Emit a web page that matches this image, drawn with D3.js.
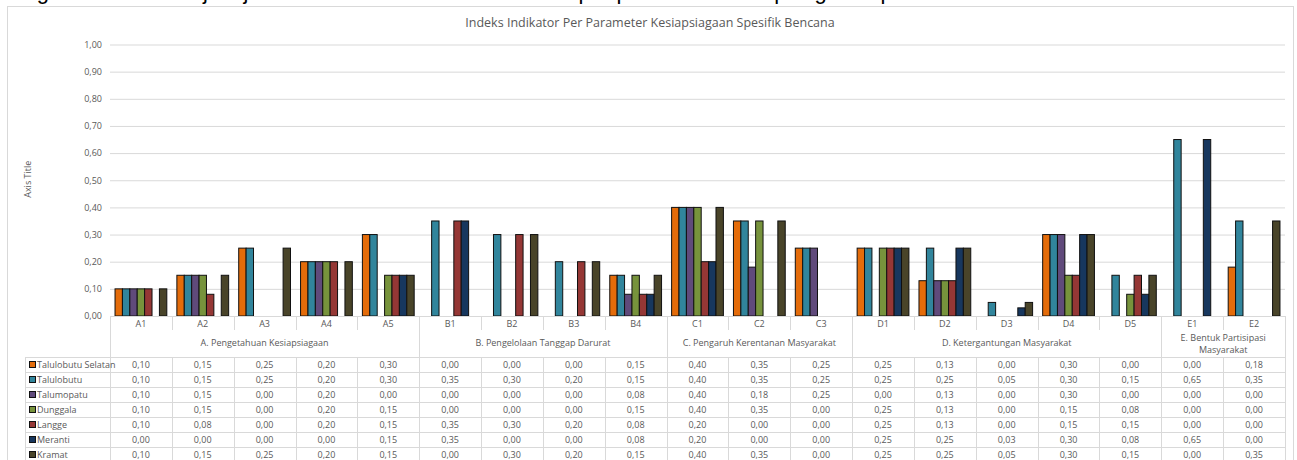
<!DOCTYPE html>
<html>
<head>
<meta charset="utf-8">
<script src="https://cdn.jsdelivr.net/npm/d3@7"></script>
<style>
  body { margin: 0; background: #fff; }
  svg { display: block; }
</style>
</head>
<body>
<script>
const categories = ["A1","A2","A3","A4","A5","B1","B2","B3","B4","C1","C2","C3","D1","D2","D3","D4","D5","E1","E2"];
const groups = [
  { name: ["A. Pengetahuan Kesiapsiagaan"], from: 0, to: 4 },
  { name: ["B. Pengelolaan Tanggap Darurat"], from: 5, to: 8 },
  { name: ["C. Pengaruh Kerentanan Masyarakat"], from: 9, to: 11 },
  { name: ["D. Ketergantungan Masyarakat"], from: 12, to: 16 },
  { name: ["E. Bentuk Partisipasi", "Masyarakat"], from: 17, to: 18 }
];
const seriesNames = ["Talulobutu Selatan","Talulobutu","Talumopatu","Dunggala","Langge","Meranti","Kramat"];
const colors = ["#E46C0A","#31859C","#604A7B","#77933C","#953735","#17375E","#494429"];

const talulobutuSelatan = [0.10,0.15,0.25,0.20,0.30,0.00,0.00,0.00,0.15,0.40,0.35,0.25,0.25,0.13,0.00,0.30,0.00,0.00,0.18];
const talulobutu        = [0.10,0.15,0.25,0.20,0.30,0.35,0.30,0.20,0.15,0.40,0.35,0.25,0.25,0.25,0.05,0.30,0.15,0.65,0.35];
const talumopatu        = [0.10,0.15,0.00,0.20,0.00,0.00,0.00,0.00,0.08,0.40,0.18,0.25,0.00,0.13,0.00,0.30,0.00,0.00,0.00];
const dunggala          = [0.10,0.15,0.00,0.20,0.15,0.00,0.00,0.00,0.15,0.40,0.35,0.00,0.25,0.13,0.00,0.15,0.08,0.00,0.00];
const langge            = [0.10,0.08,0.00,0.20,0.15,0.35,0.30,0.20,0.08,0.20,0.00,0.00,0.25,0.13,0.00,0.15,0.15,0.00,0.00];
const meranti           = [0.00,0.00,0.00,0.00,0.15,0.35,0.00,0.00,0.08,0.20,0.00,0.00,0.25,0.25,0.03,0.30,0.08,0.65,0.00];
const kramat            = [0.10,0.15,0.25,0.20,0.15,0.00,0.30,0.20,0.15,0.40,0.35,0.00,0.25,0.25,0.05,0.30,0.15,0.00,0.35];
const allValues = [talulobutuSelatan, talulobutu, talumopatu, dunggala, langge, meranti, kramat];

const yTicks = [0,0.1,0.2,0.3,0.4,0.5,0.6,0.7,0.8,0.9,1.0];
const fmt = v => d3.format(".2f")(v).replace(".", ",");

const width = 1297, height = 460;
const plotLeft = 110, plotRight = 1285, plotTop = 44.5, plotBottom = 316;
const catRowH = 14, groupRowH = 27, rowH = 15;
const legendLeft = 25;
const font = "'Open Sans', 'Liberation Sans', sans-serif";
const textColor = "#595959";
const lineColor = "#D9D9D9";

const svg = d3.select("body").append("svg")
  .attr("width", width)
  .attr("height", height)
  .style("font-family", font);

// cut-off line of document text above the chart (only its bottom edge shows)
svg.append("text")
  .attr("x", 0)
  .attr("y", -1.5)
  .attr("font-family", "'Liberation Sans', Arial, sans-serif")
  .attr("font-size", 22)
  .attr("fill", "#000")
  .text("dengan data hasil kajian jumlah indikator untuk nilai indeks per parameter kesiapsiagaan spesifik bencana.");

// chart frame
svg.append("rect")
  .attr("x", 7.5).attr("y", 6.5)
  .attr("width", width - 11).attr("height", height)
  .attr("fill", "#fff")
  .attr("stroke", lineColor);

// title
svg.append("text")
  .attr("x", 650).attr("y", 27)
  .attr("text-anchor", "middle")
  .attr("font-size", 12.5)
  .attr("fill", textColor)
  .text("Indeks Indikator Per Parameter Kesiapsiagaan Spesifik Bencana");

const x0 = d3.scaleBand()
  .domain(categories)
  .range([plotLeft, plotRight]);

const x1 = d3.scaleBand()
  .domain(seriesNames)
  .range([0, x0.bandwidth()])
  .paddingInner(0)
  .paddingOuter(0.68);

const y = d3.scaleLinear()
  .domain([0, 1])
  .range([plotBottom, plotTop]);

// y axis + gridlines
const yAxis = svg.append("g")
  .attr("transform", `translate(${plotLeft},0)`)
  .call(d3.axisLeft(y).tickValues(yTicks).tickFormat(fmt).tickSize(-(plotRight - plotLeft)).tickPadding(8));
yAxis.select(".domain").remove();
yAxis.selectAll(".tick line").attr("stroke", lineColor);
yAxis.selectAll(".tick text")
  .attr("fill", textColor)
  .attr("font-size", 9)
  .attr("font-family", font);

// axis title
svg.append("text")
  .attr("transform", `translate(31,${(plotTop + plotBottom) / 2 - 1}) rotate(-90)`)
  .attr("text-anchor", "middle")
  .attr("font-size", 9)
  .attr("fill", textColor)
  .text("Axis Title");

// bars
const seriesG = svg.append("g")
  .selectAll("g")
  .data(seriesNames)
  .join("g")
  .attr("fill", (d, i) => colors[i]);

seriesG.selectAll("rect")
  .data((d, i) => allValues[i].map((v, j) => ({ s: d, cat: categories[j], v })).filter(e => e.v > 0))
  .join("rect")
  .attr("x", d => x0(d.cat) + x1(d.s))
  .attr("y", d => y(d.v))
  .attr("width", x1.bandwidth())
  .attr("height", d => y(0) - y(d.v))
  .attr("stroke", "#111")
  .attr("stroke-width", 1);

// baseline
svg.append("line")
  .attr("x1", plotLeft).attr("x2", plotRight)
  .attr("y1", plotBottom + 0.5).attr("y2", plotBottom + 0.5)
  .attr("stroke", lineColor);

// category label row
const catY = plotBottom;
const grid = svg.append("g").attr("stroke", lineColor).attr("stroke-width", 1);
categories.forEach((c, i) => {
  svg.append("text")
    .attr("x", x0(c) + x0.bandwidth() / 2)
    .attr("y", catY + 10.5)
    .attr("text-anchor", "middle")
    .attr("font-size", 9)
    .attr("fill", textColor)
    .text(c);
});
categories.slice(1).forEach(c => {
  const xx = Math.round(x0(c)) + 0.5;
  grid.append("line").attr("x1", xx).attr("x2", xx).attr("y1", catY).attr("y2", catY + catRowH);
});

// group labels row
const groupTop = catY + catRowH;
const tableTop = groupTop + groupRowH;
groups.forEach(g => {
  const gx0 = x0(categories[g.from]);
  const gx1 = x0(categories[g.to]) + x0.bandwidth();
  const t = svg.append("text")
    .attr("text-anchor", "middle")
    .attr("font-size", 9)
    .attr("fill", textColor);
  g.name.forEach((line, k) => {
    t.append("tspan")
      .attr("x", (gx0 + gx1) / 2)
      .attr("y", g.name.length === 1 ? groupTop + 16 : groupTop + 11 + k * 12)
      .text(line);
  });
  const xx = Math.round(gx1) + 0.5;
  grid.append("line").attr("x1", xx).attr("x2", xx).attr("y1", catY).attr("y2", tableTop + rowH * seriesNames.length);
});
grid.append("line").attr("x1", plotLeft + 0.5).attr("x2", plotLeft + 0.5)
  .attr("y1", catY).attr("y2", tableTop + rowH * seriesNames.length);

// data table
for (let r = 0; r <= seriesNames.length; r++) {
  const yy = tableTop + r * rowH + 0.5;
  grid.append("line").attr("x1", legendLeft).attr("x2", plotRight).attr("y1", yy).attr("y2", yy);
}
grid.append("line").attr("x1", legendLeft + 0.5).attr("x2", legendLeft + 0.5)
  .attr("y1", tableTop).attr("y2", tableTop + rowH * seriesNames.length);
categories.slice(1).forEach(c => {
  const xx = Math.round(x0(c)) + 0.5;
  grid.append("line").attr("x1", xx).attr("x2", xx).attr("y1", tableTop).attr("y2", tableTop + rowH * seriesNames.length);
});

seriesNames.forEach((s, i) => {
  const rowY = tableTop + i * rowH;
  svg.append("rect")
    .attr("x", 29.5).attr("y", rowY + 4.5)
    .attr("width", 6).attr("height", 6)
    .attr("fill", colors[i])
    .attr("stroke", "#111");
  svg.append("text")
    .attr("x", 37).attr("y", rowY + 11)
    .attr("font-size", 9)
    .attr("fill", textColor)
    .text(s);
  allValues[i].forEach((v, j) => {
    svg.append("text")
      .attr("x", x0(categories[j]) + x0.bandwidth() / 2)
      .attr("y", rowY + 11)
      .attr("text-anchor", "middle")
      .attr("font-size", 9)
      .attr("fill", textColor)
      .text(fmt(v));
  });
});
</script>
</body>
</html>
